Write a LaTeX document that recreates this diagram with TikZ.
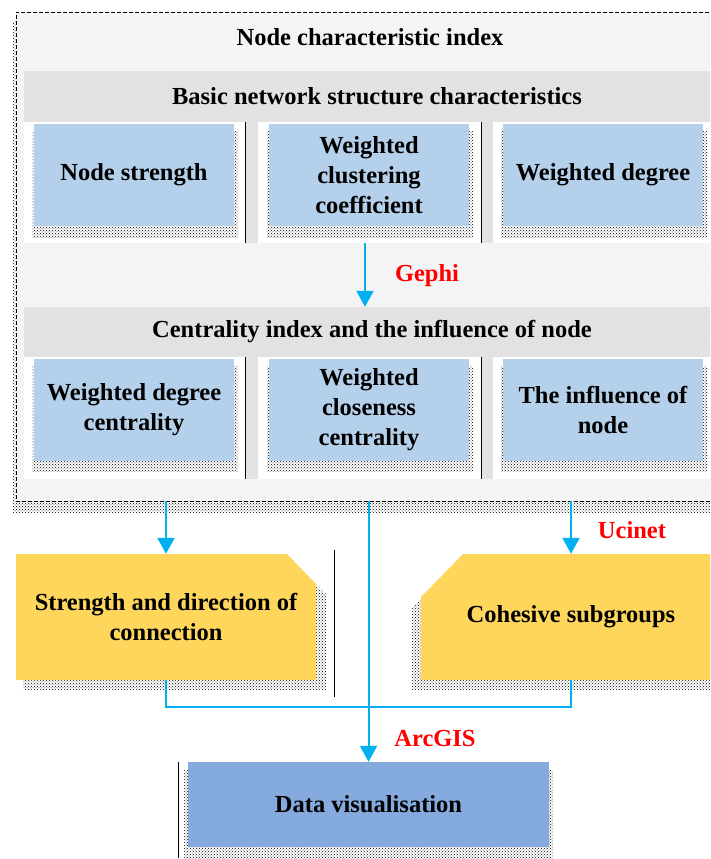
\documentclass[tikz,border=0pt]{standalone}
\usepackage{fontspec}
\setmainfont{Liberation Serif}
\usetikzlibrary{arrows.meta,patterns}

\begin{document}
\begin{tikzpicture}[x=1pt,y=-1pt,
        font=\fontsize{24.5}{30}\selectfont\bfseries,
        cell/.style={fill=cellblue, minimum width=200pt, minimum height=102pt, align=center, inner sep=1pt},
        shade/.style={pattern=crosshatch dots, pattern color=black},
        flow/.style={draw=linkblue, line width=2pt, -{Triangle[width=17pt,length=16pt]}},
        link/.style={draw=linkblue, line width=2pt},
        tool/.style={text=red}]
        % Define colors
        \definecolor{outerbg}{RGB}{244,244,244}
        \definecolor{bargray}{RGB}{226,226,226}
        \definecolor{cellblue}{RGB}{181,208,234}
        \definecolor{sumyellow}{RGB}{254,214,92}
        \definecolor{datablue}{RGB}{132,170,222}
        \definecolor{linkblue}{RGB}{0,176,240}

        \clip (0,0) rectangle (710,859);
        \path[use as bounding box] (0,0) rectangle (710,859);

        % --- OUTER BOX (Node characteristic index) ---
        \fill[shade] (13,22) rectangle (740,512);
        \node[draw, dash pattern=on 4pt off 2pt, fill=outerbg, minimum width=714pt, minimum height=489pt, anchor=north west] (index) at (16,12) {};
        \node (title) at (370,37) {Node characteristic index};

        % --- ROW 1 (Basic network structure) ---
        \fill[bargray] (24,71) rectangle (730,243);
        \node (basic) at (377,96) {Basic network structure characteristics};
        \foreach \l/\r in {24/245, 258/481, 493/730} \fill[white] (\l,122) rectangle (\r,243);
        \foreach \x in {245, 481} \draw[line width=0.9pt] (\x,122) -- (\x,243);
        \foreach \x/\name/\txt in {134/strength/{Node strength}, 369/clustering/{Weighted\\clustering\\coefficient}, 603/degree/{Weighted degree}} {
            \fill[shade] (\x-102,131) rectangle (\x+104,237);
            \node[cell] (\name) at (\x,175) {\txt};
        }

        % --- ROW 2 (Centrality index) ---
        \fill[bargray] (24,307) rectangle (730,479);
        \node[minimum height=50pt] (central) at (372,332) {Centrality index and the influence of node};
        \foreach \l/\r in {24/245, 258/481, 493/730} \fill[white] (\l,357) rectangle (\r,479);
        \foreach \x in {245, 481} \draw[line width=0.9pt] (\x,357) -- (\x,479);
        \foreach \x/\name/\txt in {134/wdc/{Weighted degree\\centrality}, 369/wcc/{Weighted\\closeness\\centrality}, 603/influence/{The influence of\\node}} {
            \fill[shade] (\x-102,366) rectangle (\x+104,471);
            \node[cell] (\name) at (\x,409.5) {\txt};
        }

        % Gephi step
        \coordinate (gephi) at (365,243);
        \draw[flow] (gephi) -- (gephi |- central.north);
        \node[tool] at (427,276) {Gephi};

        % --- BOTTOM (Connection and subgroups) ---
        \fill[shade] (23,566) -- (294,564) -- (326,594) -- (326,690) -- (23,690) -- cycle;
        \fill[sumyellow] (16,554) -- (287,554) -- (316,584) -- (316,680) -- (16,680) -- cycle;
        \node[minimum width=300pt, minimum height=126pt, align=center] (direction) at (166,617) {Strength and direction of\\connection};

        \fill[shade] (455,564) -- (740,564) -- (740,690) -- (412,690) -- (412,607) -- cycle;
        \fill[sumyellow] (463,554) -- (730,554) -- (730,680) -- (421,680) -- (421,597) -- cycle;
        \node[minimum width=300pt, minimum height=126pt] (cohesive) at (571,617) {Cohesive subgroups};

        \draw[line width=0.9pt] (334,550) -- (334,697);

        % Data visualisation
        \fill[shade] (184,770) rectangle (553,858);
        \node[fill=datablue, minimum width=361pt, minimum height=85pt] (visual) at (368.5,804.5) {Data visualisation};
        \draw[line width=0.9pt] (178,762) -- (178,858);

        % Connectors
        \draw[flow] (index.south -| direction.north) -- (direction.north);
        \draw[flow] (index.south -| cohesive.north) -- (cohesive.north);
        \node[tool] at (632,530) {Ucinet};
        \draw[link] (direction.south) -- ++(0,27) -| (cohesive.south);
        \draw[flow] (index.south -| visual.north) -- (visual.north);
        \node[tool] at (435,738) {ArcGIS};
    \end{tikzpicture}
\end{document}
